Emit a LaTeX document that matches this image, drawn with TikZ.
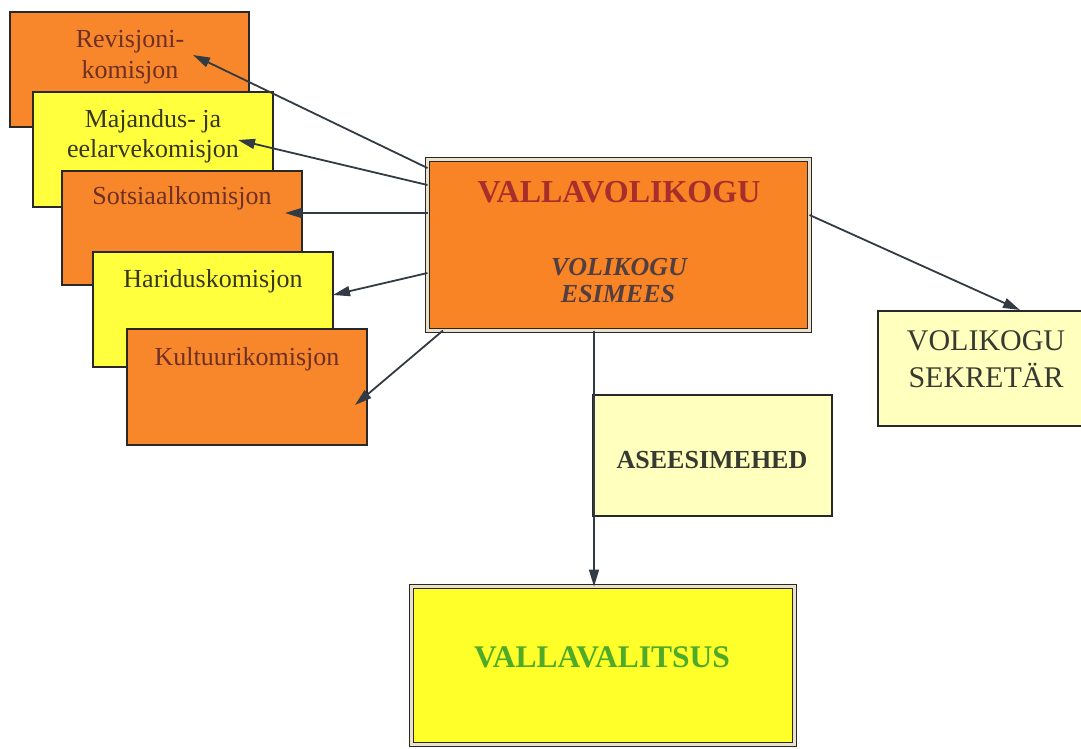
\documentclass[tikz,border=0pt]{standalone}
\usepackage{fontspec}
\setmainfont{Liberation Serif}
\usetikzlibrary{arrows.meta,calc}
\definecolor{cOrange}{RGB}{247,135,42}
\definecolor{cMainOr}{RGB}{248,132,38}
\definecolor{cYellow}{RGB}{255,255,62}
\definecolor{cLight}{RGB}{255,255,190}
\definecolor{cVal}{RGB}{255,255,42}
\definecolor{cBorder}{RGB}{40,40,40}
\definecolor{cGap}{RGB}{235,225,200}
\definecolor{cArrow}{RGB}{50,58,68}
\definecolor{tOrange}{RGB}{110,48,38}
\definecolor{tYellow}{RGB}{55,55,28}
\definecolor{tRed}{RGB}{168,46,44}
\definecolor{tEsim}{RGB}{82,62,62}
\definecolor{tDark}{RGB}{55,58,48}
\definecolor{tGreen}{RGB}{78,170,40}
\tikzset{
  boxstyle/.style={draw=cBorder, line width=1.6pt, inner sep=0pt, outer sep=0pt},
  dblbox/.style={draw=cBorder, line width=1.5pt, double=cGap, double distance=2.2pt, inner sep=0pt, outer sep=0pt},
  comtext/.style={anchor=base, inner sep=0pt, font=\fontsize{26}{31}\selectfont},
  arr/.style={draw=cArrow, line width=1.8pt, arrows={-Triangle[length=17pt,width=10pt]}}
}
\begin{document}
\begin{tikzpicture}[x=1pt,y=-1pt]
\useasboundingbox (0,0) rectangle (1081,748);
\clip (0,0) rectangle (1081,748);
% committee boxes
\node[boxstyle, fill=cOrange, minimum width=239pt, minimum height=115pt] (rev) at (129.5,69.5) {};
\node[comtext, text=tOrange] (revA) at (130,47) {Revisjoni-};
\node[comtext, text=tOrange] (revB) at (130,78) {komisjon};
\node[boxstyle, fill=cYellow, minimum width=240pt, minimum height=115pt] (maj) at (153,149.5) {};
\node[comtext, text=tYellow] (majA) at (153,127) {Majandus- ja};
\node[comtext, text=tYellow] (majB) at (153,157) {eelarvekomisjon};
\node[boxstyle, fill=cOrange, minimum width=240pt, minimum height=114pt] (sot) at (182,228) {};
\node[comtext, text=tOrange] (sotA) at (182,204) {Sotsiaalkomisjon};
\node[boxstyle, fill=cYellow, minimum width=240pt, minimum height=115pt] (har) at (213,309.5) {};
\node[comtext, text=tYellow] (harA) at (213,287) {Hariduskomisjon};
\node[boxstyle, fill=cOrange, minimum width=240pt, minimum height=116pt] (kul) at (247,387) {};
\node[comtext, text=tOrange] (kulA) at (247,365) {Kultuurikomisjon};
% main box
\node[dblbox, fill=cMainOr, minimum width=382pt, minimum height=171pt] (main) at (618.5,245) {};
\node[anchor=base, inner sep=0pt, text=tRed, font=\fontsize{32}{36}\selectfont\bfseries] (mainT) at (619,202) {VALLAVOLIKOGU};
\node[anchor=base, inner sep=0pt, text=tEsim, font=\fontsize{26}{27}\selectfont\bfseries\itshape] (esA) at (619,275) {VOLIKOGU};
\node[anchor=base, inner sep=0pt, text=tEsim, font=\fontsize{26}{27}\selectfont\bfseries\itshape] (esB) at (618,302) {ESIMEES};
% secretary
\node[boxstyle, fill=cLight, minimum width=222pt, minimum height=115pt] (sek) at (989,368.5) {};
\node[anchor=base, inner sep=0pt, text=tDark, font=\fontsize{30}{37}\selectfont] (sekA) at (986,350) {VOLIKOGU};
\node[anchor=base, inner sep=0pt, text=tDark, font=\fontsize{30}{37}\selectfont] (sekB) at (986,387) {SEKRETÄR};
% deputies
\node[boxstyle, fill=cLight, minimum width=239pt, minimum height=121pt] (ase) at (712.5,455.5) {};
\node[anchor=base, inner sep=0pt, text=tDark, font=\fontsize{26}{30}\selectfont\bfseries] (aseT) at (712,468) {ASEESIMEHED};
% government
\node[dblbox, fill=cVal, minimum width=383pt, minimum height=158pt] (val) at (603,665.5) {};
\node[anchor=base, inner sep=0pt, text=tGreen, font=\fontsize{31.5}{36}\selectfont\bfseries] (valT) at (602,667) {VALLAVALITSUS};
% arrow targets
\coordinate (revTip) at (193,55);
\coordinate (majTip) at (238,140);
\coordinate (sotTip) at (285,213);
\coordinate (harTip) at (333,295);
\coordinate (kulTip) at (355,405);
\coordinate (sekTip) at (1020,310);
\coordinate (vs) at ([xshift=-24.5pt]main.south);
% arrows
\draw[arr] ([yshift=-8.5pt]main.north west) -- (revTip);
\draw[arr] ([yshift=-25.5pt]main.north west) -- (majTip);
\draw[arr] ([yshift=-53.5pt]main.north west) -- (sotTip);
\draw[arr] ([yshift=-113.5pt]main.north west) -- (harTip);
\draw[arr] ([xshift=15.5pt]main.south west) -- (kulTip);
\draw[arr] ([yshift=-55.5pt]main.north east) -- (sekTip);
\draw[arr] (vs) -- (vs |- val.north);
\end{tikzpicture}
\end{document}
